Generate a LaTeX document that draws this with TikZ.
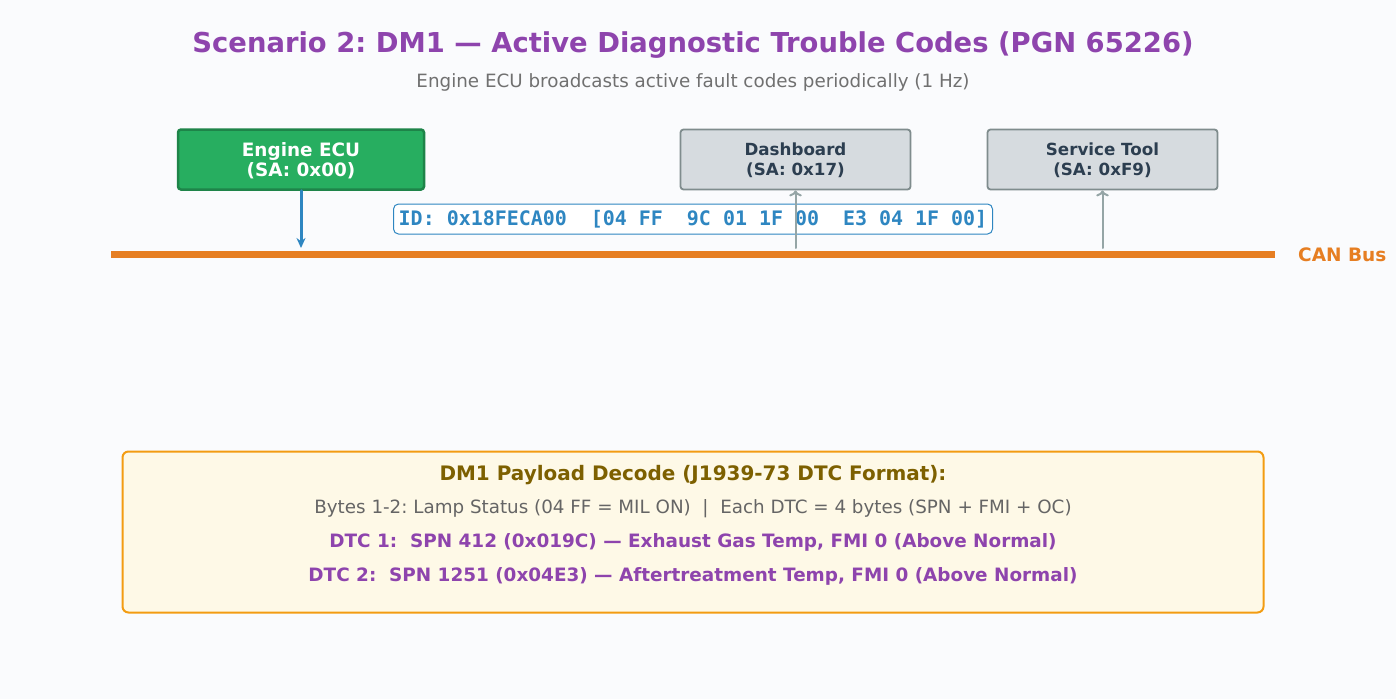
\documentclass[tikz,border=0pt]{standalone}
\usepackage{fontspec}
\setmainfont{DejaVu Sans}
\setmonofont{DejaVu Sans Mono}
\usepackage{tikz}
\usetikzlibrary{arrows.meta}
\definecolor{bg}{RGB}{250,251,253}
\definecolor{lila}{RGB}{142,68,173}
\definecolor{grau}{RGB}{112,112,112}
\definecolor{gruen}{RGB}{39,174,96}
\definecolor{gruenrand}{RGB}{30,132,73}
\definecolor{hell}{RGB}{214,219,223}
\definecolor{randgrau}{RGB}{127,140,141}
\definecolor{dunkel}{RGB}{44,62,80}
\definecolor{orng}{RGB}{230,126,34}
\definecolor{blau}{RGB}{46,134,193}
\definecolor{pfeil}{RGB}{149,165,166}
\definecolor{creme}{RGB}{254,249,231}
\definecolor{gold}{RGB}{243,156,18}
\definecolor{braun}{RGB}{125,96,0}
\frenchspacing

\begin{document}
\begin{tikzpicture}[x=1pt,y=-1pt,line cap=round]
	\tikzstyle{ecu}=[draw=gruenrand,fill=gruen,line width=2.5pt,rounded corners=3pt,minimum width=246pt,minimum height=60pt,text depth=0pt,text=white,font=\fontsize{18.4}{20}\selectfont\bfseries,align=center];
	\tikzstyle{rx}=[draw=randgrau,fill=hell,line width=1.8pt,rounded corners=3pt,minimum width=230pt,minimum height=60pt,text depth=0pt,text=dunkel,font=\fontsize{16.7}{20}\selectfont\bfseries,align=center];
	\tikzstyle{msg}=[draw=blau,fill=white,line width=1pt,rounded corners=5pt,minimum width=599pt,minimum height=30pt,text=blau,font=\fontsize{19.95}{20}\selectfont\ttfamily\bfseries];
	\tikzstyle{tx}=[-{Stealth[length=10pt,width=9pt]},blau,line width=3pt];
	\tikzstyle{rxarrow}=[->,pfeil,line width=2pt];
	\tikzstyle{zeile}=[font=\fontsize{18.3}{20}\selectfont];
%<--------------------------------------------------------------------------->%

	\path[fill=bg] (0,0) rectangle (1396,699);
	\useasboundingbox (0,0) rectangle (1396,699);
	%% Title
	\node[text=lila,font=\fontsize{27.4}{30}\selectfont\bfseries] (title) at (693,45) {Scenario 2: DM1 — Active Diagnostic Trouble Codes (PGN 65226)};
	\node[text=grau,font=\fontsize{18.3}{20}\selectfont] (sub) at (693,82) {Engine ECU broadcasts active fault codes periodically (1 Hz)};
	%% Bus
	\coordinate (busL) at (111,254);
	\coordinate (busR) at (1275,254);
	\draw[orng,line width=7pt,line cap=butt] (busL) -- (busR);
	\node[anchor=west,text=orng,font=\fontsize{18.5}{20}\selectfont\bfseries,inner sep=0pt] (canbus) at (1298,255) {CAN Bus};
	%% Nodes
	\node[ecu] (ecu) at (301,159.5) {Engine ECU\\(SA: 0x00)};
	\node[rx]  (dash) at (795.5,159.5) {Dashboard\\(SA: 0x17)};
	\node[rx]  (tool) at (1102.5,159.5) {Service Tool\\(SA: 0xF9)};
	\node[msg] (frame) at (693,219) {ID: 0x18FECA00\ \ [04 FF\ \ 9C 01 1F 00\ \ E3 04 1F 00]};
	%% Arrows
	\coordinate (ecuB) at (301,248);
	\coordinate (dashB) at (795.5,248);
	\coordinate (toolB) at (1102.5,248);
	\draw[tx] (ecu.south) -- (ecuB);
	\draw[rxarrow] (dashB) -- (dash.south);
	\draw[rxarrow] (toolB) -- (tool.south);
	%% Decode
	\node[draw=gold,fill=creme,line width=2pt,rounded corners=6pt,minimum width=1141pt,minimum height=161pt] (decode) at (693,532) {};
	\node[zeile,text=braun,font=\fontsize{19.95}{22}\selectfont\bfseries] (head) at (693,475) {DM1 Payload Decode (J1939-73 DTC Format):};
	\node[zeile,text=grau!90!black] (lamp) at (693,509) {Bytes 1-2: Lamp Status (04 FF = MIL ON)\ \ |\ \ Each DTC = 4 bytes (SPN + FMI + OC)};
	\node[zeile,text=lila,font=\fontsize{18.4}{20}\selectfont\bfseries] (dtcA) at (693,542) {DTC 1:\ \ SPN 412 (0x019C) — Exhaust Gas Temp, FMI 0 (Above Normal)};
	\node[zeile,text=lila,font=\fontsize{18.4}{20}\selectfont\bfseries] (dtcB) at (693,576) {DTC 2:\ \ SPN 1251 (0x04E3) — Aftertreatment Temp, FMI 0 (Above Normal)};
\end{tikzpicture}
\end{document}
